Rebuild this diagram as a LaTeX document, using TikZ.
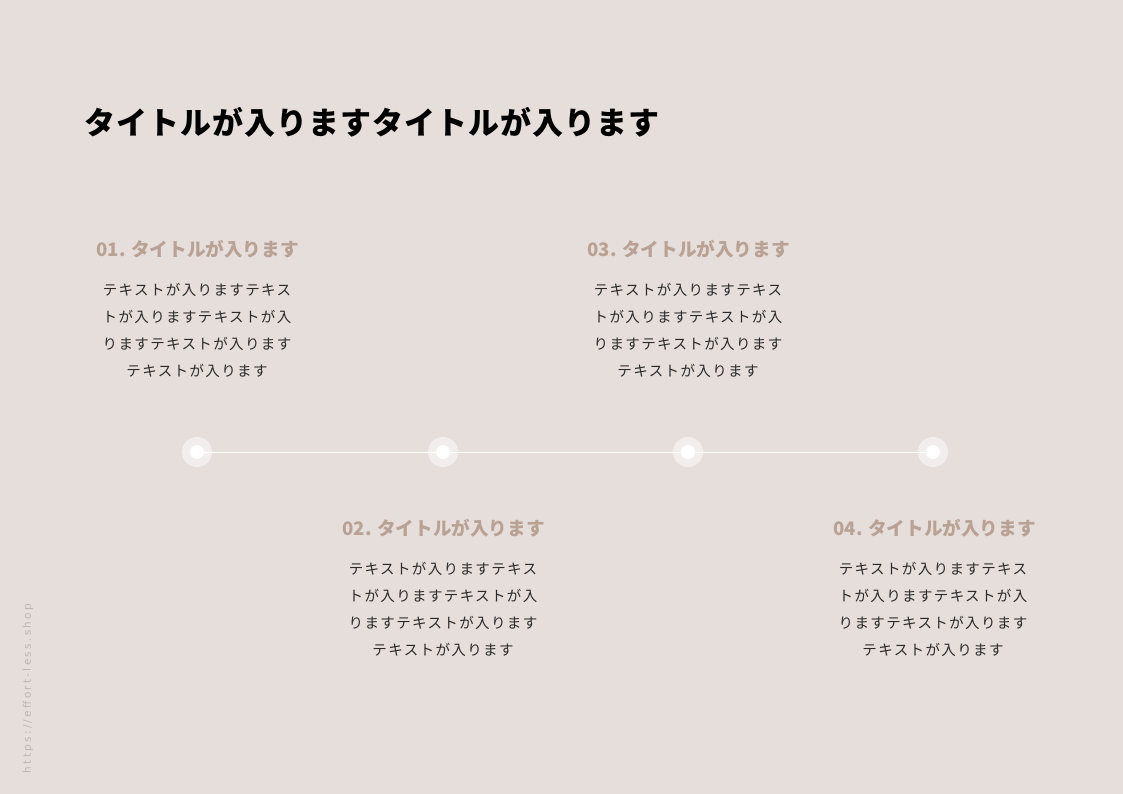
\documentclass[tikz,border=0pt]{standalone}
\usepackage{fontspec}
\newfontfamily\jp{Noto Sans CJK JP}
\newfontfamily\urlfont{DejaVu Sans}
\definecolor{bg}{HTML}{E5DEDB}
\definecolor{tan}{HTML}{B9A294}
\definecolor{body}{HTML}{2A2A2A}
\definecolor{urlc}{HTML}{BDB5B2}
\begin{document}
\begin{tikzpicture}[x=1pt,y=-1pt,
  heading/.style={text=tan,font=\jp\bfseries\fontsize{18.6}{22}\selectfont,inner sep=0pt},
  bodytext/.style={text=body,font=\jp\fontsize{14.5}{27}\selectfont\addfontfeatures{LetterSpace=9.5},align=center,inner sep=0pt},
  halo/.style={circle,fill=white,fill opacity=0.5,minimum size=30pt,inner sep=0pt},
  dotc/.style={circle,fill=white,minimum size=14pt,inner sep=0pt},
  tline/.style={draw=white,line width=1pt}]
\fill[bg] (0,0) rectangle (1123,794);
\useasboundingbox (0,0) rectangle (1123,794);
\node[anchor=west,inner sep=0pt,font=\jp\bfseries\fontsize{31}{36}\selectfont\addfontfeatures{LetterSpace=3.2}] (title) at (84,122) {タイトルが入りますタイトルが入ります};
% timeline
\coordinate (p1) at (197,452);
\coordinate (p2) at (443,452);
\coordinate (p3) at (688,452);
\coordinate (p4) at (933,452);
\draw[tline] (p1) -- (p4);
\foreach \i in {1,2,3,4}{
  \node[halo] (h\i) at (p\i) {};
  \node[dotc] (d\i) at (p\i) {};
}
% items
\node[heading] (t1) at (197.5,249) {01. タイトルが入ります};
\node[heading] (t2) at (443.5,528) {02. タイトルが入ります};
\node[heading] (t3) at (688.5,249) {03. タイトルが入ります};
\node[heading] (t4) at (934.5,528) {04. タイトルが入ります};
\foreach \i/\x/\y in {1/197/330.5,2/443/609.5,3/688/330.5,4/933/609.5}{
  \node[bodytext] (b\i) at (\x,\y) {テキストが入りますテキス\\トが入りますテキストが入\\りますテキストが入ります\\テキストが入ります};
}
\node[rotate=90,text=urlc,font=\urlfont\fontsize{10.5}{12}\selectfont\addfontfeatures{LetterSpace=22},inner sep=0pt] (url) at (28,688.5) {https://effort-less.shop};
\end{tikzpicture}
\end{document}
